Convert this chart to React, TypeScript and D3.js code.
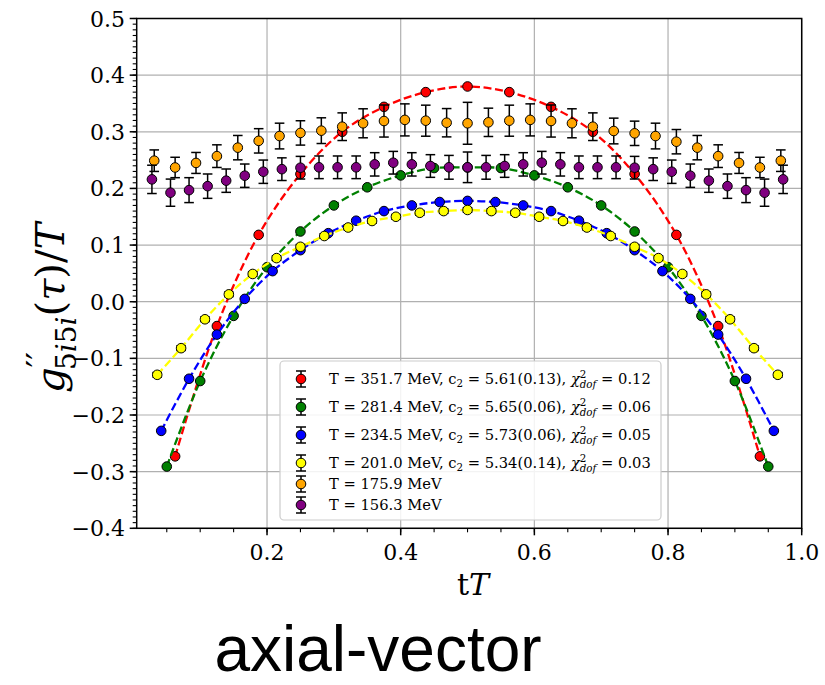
import React from "react";
import * as d3 from "d3";

// ---- data (tT = k / Nt, k = 1..Nt-1) ----
const NT_RED = 16;
const NT_GREEN = 20;
const NT_BLUE = 24;
const NT_YELLOW = 28;
const NT_ORANGE = 32;
const NT_PURPLE = 36;

const redY = [-0.273, -0.043, 0.118, 0.2255, 0.300, 0.344, 0.370, 0.380, 0.370, 0.344, 0.300, 0.2255, 0.118, -0.043, -0.273];
const greenY = [-0.291, -0.140, -0.025, 0.061, 0.124, 0.170, 0.202, 0.223, 0.236, 0.237, 0.236, 0.223, 0.202, 0.170, 0.124, 0.061, -0.025, -0.140, -0.291];
const blueY = [-0.228, -0.136, -0.058, 0.005, 0.054, 0.091, 0.121, 0.143, 0.160, 0.170, 0.176, 0.178, 0.176, 0.170, 0.160, 0.143, 0.121, 0.091, 0.054, 0.005, -0.058, -0.136, -0.228];
const yellowY = [-0.129, -0.082, -0.031, 0.013, 0.049, 0.077, 0.097, 0.116, 0.131, 0.1425, 0.150, 0.157, 0.160, 0.162, 0.160, 0.157, 0.150, 0.1425, 0.131, 0.116, 0.097, 0.077, 0.049, 0.013, -0.031, -0.082, -0.129];
const yellowErr = [0.004, 0.004, 0.004, 0.004, 0.004, 0.004, 0.004, 0.004, 0.004, 0.004, 0.004, 0.004, 0.004, 0.004, 0.004, 0.004, 0.004, 0.004, 0.004, 0.004, 0.004, 0.004, 0.004, 0.004, 0.004, 0.004, 0.004];
const orangeY = [0.249, 0.237, 0.245, 0.257, 0.272, 0.284, 0.2925, 0.298, 0.302, 0.309, 0.315, 0.319, 0.321, 0.3196, 0.316, 0.315, 0.3167, 0.3196, 0.321, 0.319, 0.315, 0.309, 0.3014, 0.2973, 0.2925, 0.2825, 0.272, 0.257, 0.245, 0.237, 0.249];
const orangeErr = [0.019, 0.018, 0.0185, 0.020, 0.0215, 0.0215, 0.0227, 0.0215, 0.0227, 0.0244, 0.0256, 0.0283, 0.0283, 0.0274, 0.025, 0.037, 0.025, 0.0274, 0.0283, 0.0283, 0.0256, 0.0244, 0.0227, 0.0215, 0.0227, 0.0215, 0.0215, 0.020, 0.0185, 0.018, 0.019];
const purpleY = [0.216, 0.1925, 0.197, 0.204, 0.2137, 0.2225, 0.2295, 0.234, 0.2366, 0.2373, 0.2373, 0.2373, 0.2425, 0.2454, 0.2425, 0.2396, 0.2373, 0.2373, 0.2373, 0.2396, 0.2425, 0.2454, 0.2425, 0.2373, 0.2373, 0.2373, 0.2366, 0.234, 0.2295, 0.2225, 0.2137, 0.204, 0.197, 0.1925, 0.216];
const purpleErr = [0.025, 0.024, 0.022, 0.0215, 0.0206, 0.0206, 0.0206, 0.020, 0.020, 0.020, 0.020, 0.020, 0.0206, 0.020, 0.0206, 0.020, 0.021, 0.027, 0.021, 0.020, 0.0206, 0.020, 0.0206, 0.020, 0.020, 0.020, 0.020, 0.020, 0.0206, 0.0206, 0.0206, 0.0215, 0.022, 0.024, 0.025];

const legendT = ["351.7", "281.4", "234.5", "201.0", "175.9", "156.3"];
const legendC2 = ["5.61(0.13)", "5.65(0.06)", "5.73(0.06)", "5.34(0.14)"];
const legendChi = ["0.12", "0.06", "0.05", "0.03"];

const xTicks = [0.2, 0.4, 0.6, 0.8, 1.0];
const yTicks = [-0.4, -0.3, -0.2, -0.1, 0.0, 0.1, 0.2, 0.3, 0.4, 0.5];

type Series = { nt: number; y: number[]; err?: number[]; color: string; fit: boolean };

const series: Series[] = [
  { nt: NT_RED, y: redY, color: "#ff0000", fit: true },
  { nt: NT_GREEN, y: greenY, color: "#008000", fit: true },
  { nt: NT_BLUE, y: blueY, color: "#0000ff", fit: true },
  { nt: NT_YELLOW, y: yellowY, err: yellowErr, color: "#ffff00", fit: true },
  { nt: NT_ORANGE, y: orangeY, err: orangeErr, color: "#ffa500", fit: false },
  { nt: NT_PURPLE, y: purpleY, err: purpleErr, color: "#800080", fit: false },
];

const SERIF = "'DejaVu Serif', 'Liberation Serif', serif";

export default function App() {
  const W = 825;
  const H = 685;
  const x = d3.scaleLinear().domain([0.005, 1.0]).range([136.7, 801.7]);
  const y = d3.scaleLinear().domain([-0.4, 0.5]).range([528.3, 18.5]);
  const [x0, x1] = x.range();
  const [yb, yt] = y.range();

  const xMinor = d3.range(0.05, 1.0001, 0.05).filter((v) => v >= 0.005);
  const yMinor = d3.range(-0.4, 0.5001, 0.01);

  const line = d3
    .line<[number, number]>()
    .x((d) => x(d[0]))
    .y((d) => y(d[1]))
    .curve(d3.curveCatmullRom.alpha(0.5));

  const R = 4.8;
  const CAP = 4.8;

  const legX = 280;
  const legY = 361;
  const legW = 381;
  const legH = 159;
  const rowY = [379, 407, 435, 463, 484, 505];

  return (
    <div style={{ position: "absolute", left: 0, top: 0 }}>
      <svg width={W} height={H} viewBox={`0 0 ${W} ${H}`} style={{ display: "block", background: "#fff" }}>
        {/* grid */}
        <g stroke="#b0b0b0" strokeWidth={1.2}>
          {xTicks.map((t) => (
            <line key={"gx" + t} x1={x(t)} x2={x(t)} y1={yb} y2={yt} />
          ))}
          {yTicks.map((t) => (
            <line key={"gy" + t} x1={x0} x2={x1} y1={y(t)} y2={y(t)} />
          ))}
        </g>

        {/* series */}
        {series.map((s, si) => {
          const pts: [number, number][] = s.y.map((v, i) => [(i + 1) / s.nt, v]);
          return (
            <g key={"s" + si}>
              {s.fit && (
                <path d={line(pts) || ""} fill="none" stroke={s.color} strokeWidth={2.3} strokeDasharray="8,3.6" />
              )}
              {s.err &&
                pts.map((p, i) => {
                  const e = s.err![i];
                  const cx = x(p[0]);
                  const ya = y(p[1] + e);
                  const yb2 = y(p[1] - e);
                  return (
                    <g key={"e" + i} stroke="#000" strokeWidth={1.5}>
                      <line x1={cx} x2={cx} y1={ya} y2={yb2} />
                      <line x1={cx - CAP} x2={cx + CAP} y1={ya} y2={ya} />
                      <line x1={cx - CAP} x2={cx + CAP} y1={yb2} y2={yb2} />
                    </g>
                  );
                })}
              {pts.map((p, i) => (
                <circle key={"p" + i} cx={x(p[0])} cy={y(p[1])} r={R} fill={s.color} stroke="#000" strokeWidth={1} />
              ))}
            </g>
          );
        })}

        {/* spines */}
        <rect x={x0} y={yt} width={x1 - x0} height={yb - yt} fill="none" stroke="#000" strokeWidth={1.5} />

        {/* ticks */}
        <g stroke="#000">
          {xTicks.map((t) => (
            <line key={"xt" + t} x1={x(t)} x2={x(t)} y1={yb} y2={yb + 7} strokeWidth={1.5} />
          ))}
          {xMinor.map((t, i) => (
            <line key={"xm" + i} x1={x(t)} x2={x(t)} y1={yb} y2={yb + 4} strokeWidth={1.1} />
          ))}
          {yTicks.map((t) => (
            <line key={"yt" + t} x1={x0} x2={x0 - 7} y1={y(t)} y2={y(t)} strokeWidth={1.5} />
          ))}
          {yMinor.map((t, i) => (
            <line key={"ym" + i} x1={x0} x2={x0 - 4} y1={y(t)} y2={y(t)} strokeWidth={1.1} />
          ))}
        </g>
        <g fontFamily={SERIF} fontSize={22} fill="#000">
          {xTicks.map((t) => (
            <text key={"xl" + t} x={x(t)} y={560} textAnchor="middle">
              {t.toFixed(1)}
            </text>
          ))}
          {yTicks.map((t) => (
            <text key={"yl" + t} x={125} y={y(t) + 8} textAnchor="end">
              {(t < 0 ? "\u2212" : "") + Math.abs(t).toFixed(1)}
            </text>
          ))}
        </g>

        {/* axis labels */}
        <text x={473} y={595} textAnchor="middle" fontFamily={SERIF} fontSize={30}>
          t<tspan fontStyle="italic">T</tspan>
        </text>
        <text transform={`translate(64,308) rotate(-90)`} textAnchor="middle" fontFamily={SERIF} fontSize={40}>
          <tspan fontStyle="italic">g</tspan>
          <tspan fontSize={34} dy={-13}>{"\u2032\u2032"}</tspan>
          <tspan fontSize={28} dx={-18} dy={25}>
            5<tspan fontStyle="italic">i</tspan>5<tspan fontStyle="italic">i</tspan>
          </tspan>
          <tspan dy={-12}>(</tspan>
          <tspan fontStyle="italic">τ</tspan>
          <tspan>)/</tspan>
          <tspan fontStyle="italic">T</tspan>
        </text>

        {/* legend */}
        <rect x={legX} y={legY} width={legW} height={legH} rx={4} ry={4} fill="#fff" fillOpacity={0.85} stroke="#cccccc" strokeWidth={1.2} />
        {series.map((s, i) => {
          const cy = rowY[i];
          const cx = 301;
          return (
            <g key={"lg" + i}>
              <g stroke="#000" strokeWidth={1.5}>
                <line x1={cx} x2={cx} y1={cy - 8} y2={cy + 8} />
                <line x1={cx - 5} x2={cx + 5} y1={cy - 8} y2={cy - 8} />
                <line x1={cx - 5} x2={cx + 5} y1={cy + 8} y2={cy + 8} />
              </g>
              <circle cx={cx} cy={cy} r={R} fill={s.color} stroke="#000" strokeWidth={1} />
              <text x={329} y={cy + 5} fontFamily={SERIF} fontSize={14.7}>
                {i < 4 ? (
                  <>
                    <tspan>{`T = ${legendT[i]} MeV, c`}</tspan>
                    <tspan fontSize={10.3} dy={3}>2</tspan>
                    <tspan dy={-3}>{` = ${legendC2[i]}, `}</tspan>
                    <tspan fontStyle="italic">χ</tspan>
                    <tspan fontSize={10.3} dy={-6}>2</tspan>
                    <tspan fontSize={10.3} fontStyle="italic" dx={-6.6} dy={10}>dof</tspan>
                    <tspan dy={-4}>{` = ${legendChi[i]}`}</tspan>
                  </>
                ) : (
                  <tspan>{`T = ${legendT[i]} MeV`}</tspan>
                )}
              </text>
            </g>
          );
        })}

        {/* caption */}
        <text x={378} y={671} textAnchor="middle" fontFamily="'Liberation Sans', Arial, sans-serif" fontSize={64} fill="#000">
          axial-vector
        </text>
      </svg>
    </div>
  );
}
